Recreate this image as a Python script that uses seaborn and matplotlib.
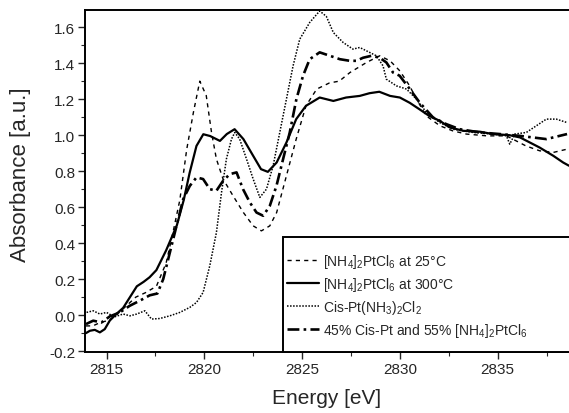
import numpy as np
import pandas as pd
import matplotlib
matplotlib.use("Agg")
import matplotlib.pyplot as plt
import seaborn as sns
from matplotlib.ticker import MultipleLocator
from matplotlib.patches import Rectangle

# ---------------- data ----------------
e_300 = [2813.95, 2814.15, 2814.4, 2814.66, 2814.91, 2815.17, 2815.5, 2815.85, 2816.2, 2816.55,
         2816.9, 2817.2, 2817.55, 2818.05, 2818.6, 2818.95, 2819.25, 2819.6, 2819.95, 2820.3,
         2820.8, 2821.15, 2821.55, 2822.0, 2822.5, 2822.9, 2823.25, 2823.7, 2824.2, 2824.7,
         2825.2, 2825.9, 2826.6, 2827.25, 2827.95, 2828.45, 2828.95, 2829.5, 2830.0, 2830.5,
         2831.0, 2831.5, 2832.05, 2832.55, 2833.25, 2834.1, 2834.75, 2835.6, 2836.15, 2836.65,
         2837.15, 2837.85, 2838.35, 2838.65]
a_300 = [-0.10, -0.087, -0.082, -0.096, -0.078, -0.03, 0.006, 0.04, 0.10, 0.16,
         0.185, 0.21, 0.25, 0.36, 0.50, 0.64, 0.79, 0.94, 1.005, 0.995,
         0.968, 1.006, 1.033, 0.978, 0.885, 0.811, 0.796, 0.848, 0.959, 1.089,
         1.163, 1.209, 1.19, 1.209, 1.218, 1.233, 1.241, 1.218, 1.209, 1.18,
         1.144, 1.107, 1.079, 1.043, 1.024, 1.019, 1.006, 1.0, 0.987, 0.959,
         0.931, 0.885, 0.848, 0.83]

e_25 = [2813.95, 2814.3, 2814.7, 2815.1, 2815.5, 2816.0, 2816.5, 2817.0, 2817.55, 2818.05,
        2818.4, 2818.75, 2819.1, 2819.45, 2819.77, 2820.1, 2820.37, 2820.62, 2820.96, 2821.47,
        2822.0, 2822.5, 2822.92, 2823.35, 2823.7, 2824.2, 2824.7, 2825.2, 2825.75, 2826.4,
        2826.9, 2827.45, 2828.3, 2828.97, 2829.5, 2830.0, 2830.5, 2830.85, 2831.35, 2832.05,
        2832.7, 2833.4, 2834.45, 2835.45, 2836.45, 2837.15, 2837.85, 2838.55]
a_25 = [-0.06, -0.06, -0.04, -0.03, 0.0, 0.05, 0.10, 0.125, 0.16, 0.29,
        0.46, 0.64, 0.92, 1.13, 1.30, 1.22, 1.015, 0.867, 0.756, 0.663,
        0.57, 0.496, 0.468, 0.496, 0.57, 0.774, 0.978, 1.163, 1.256, 1.29,
        1.30, 1.348, 1.404, 1.441, 1.413, 1.357, 1.274, 1.2, 1.107, 1.052,
        1.024, 1.006, 0.996, 0.996, 0.94, 0.913, 0.904, 0.922]

e_cis = [2813.98, 2814.32, 2814.66, 2815.0, 2815.4, 2815.85, 2816.2, 2816.55, 2816.96, 2817.3,
         2817.72, 2818.24, 2818.75, 2819.26, 2819.6, 2819.94, 2820.28, 2820.62, 2820.88, 2821.13,
         2821.39, 2821.56, 2821.81, 2822.16, 2822.5, 2822.84, 2823.18, 2823.52, 2823.86, 2824.2,
         2824.54, 2824.88, 2825.39, 2825.9, 2826.24, 2826.6, 2827.1, 2827.6, 2827.95, 2828.3,
         2828.8, 2829.14, 2829.31, 2829.82, 2830.34, 2830.85, 2831.36, 2832.04, 2832.72, 2833.74,
         2834.77, 2835.45, 2835.62, 2835.88, 2836.47, 2836.98, 2837.49, 2838.0, 2838.55]
a_cis = [0.015, 0.024, 0.006, 0.015, -0.01, 0.006, -0.004, 0.006, 0.024, -0.022,
         -0.019, -0.004, 0.015, 0.043, 0.07, 0.126, 0.274, 0.459, 0.681, 0.867,
         0.978, 1.015, 0.978, 0.867, 0.756, 0.654, 0.70, 0.83, 1.015, 1.2,
         1.385, 1.533, 1.626, 1.69, 1.66, 1.57, 1.515, 1.478, 1.487, 1.468,
         1.441, 1.385, 1.311, 1.274, 1.256, 1.2, 1.126, 1.07, 1.033, 1.015,
         1.006, 0.996, 0.95, 1.006, 1.015, 1.052, 1.089, 1.089, 1.07]

e_mix = [2813.95, 2814.32, 2814.74, 2815.17, 2815.68, 2816.19, 2816.7, 2817.21, 2817.6, 2817.9,
         2818.24, 2818.58, 2818.92, 2819.26, 2819.6, 2819.94, 2820.28, 2820.62, 2820.96, 2821.3,
         2821.65, 2821.98, 2822.33, 2822.67, 2823.01, 2823.35, 2823.69, 2824.03, 2824.37, 2824.71,
         2825.05, 2825.39, 2825.9, 2826.42, 2826.93, 2827.44, 2827.78, 2828.12, 2828.55, 2828.97,
         2829.31, 2829.65, 2829.99, 2830.51, 2831.02, 2831.7, 2832.38, 2833.06, 2834.1, 2835.11,
         2836.13, 2836.81, 2837.49, 2838.17, 2838.55]
a_mix = [-0.05, -0.031, -0.041, -0.007, 0.015, 0.052, 0.08, 0.11, 0.12, 0.2,
         0.348, 0.496, 0.644, 0.718, 0.765, 0.756, 0.70, 0.691, 0.746, 0.783,
         0.793, 0.70, 0.626, 0.57, 0.552, 0.607, 0.718, 0.867, 1.015, 1.2,
         1.33, 1.422, 1.46, 1.441, 1.422, 1.413, 1.413, 1.43, 1.441, 1.43,
         1.404, 1.348, 1.33, 1.256, 1.18, 1.098, 1.061, 1.033, 1.015, 1.006,
         0.996, 0.987, 0.978, 0.996, 1.006]

labels = [r"[NH$_4$]$_2$PtCl$_6$ at 25°C",
          r"[NH$_4$]$_2$PtCl$_6$ at 300°C",
          r"Cis-Pt(NH$_3$)$_2$Cl$_2$",
          r"45% Cis-Pt and 55% [NH$_4$]$_2$PtCl$_6$"]
x_ticks = [2815, 2820, 2825, 2830, 2835]
y_ticks = [-0.2, 0.0, 0.2, 0.4, 0.6, 0.8, 1.0, 1.2, 1.4, 1.6]

# ---------------- style ----------------
sns.set_style("ticks")
plt.rcParams["font.family"] = ["Liberation Sans", "DejaVu Sans"]
plt.rcParams["mathtext.fontset"] = "custom"
plt.rcParams["mathtext.rm"] = "Liberation Sans"
plt.rcParams["mathtext.it"] = "Liberation Sans:italic"

W, H = 569, 414
ax_l, ax_b, ax_t = 85, 353, 10.7
fig = plt.figure(figsize=(W / 100, H / 100), dpi=100)
ax = fig.add_axes([ax_l / W, 1 - ax_b / H, 1 - ax_l / W, (ax_b - ax_t) / H])
aw, ah = W - ax_l, ax_b - ax_t

series = [
    (e_25, a_25, dict(linestyle=(0, (3, 3)), linewidth=1.0)),
    (e_300, a_300, dict(linestyle="-", linewidth=1.6)),
    (e_cis, a_cis, dict(linestyle=(0, (1, 1)), linewidth=1.1)),
    (e_mix, a_mix, dict(linestyle=(0, (4.5, 1.6, 1, 1.6)), linewidth=1.9)),
]
for (ex, ay, st), lab in zip(series, labels):
    df = pd.DataFrame({"Energy": ex, "Absorbance": ay})
    sns.lineplot(data=df, x="Energy", y="Absorbance", ax=ax, color="black",
                 sort=False, label=lab, **st)

ax.set_xlim(2813.9, 2838.65)
ax.set_ylim(-0.205, 1.697)
ax.set_xticks(x_ticks)
ax.set_yticks(y_ticks)
ax.set_yticklabels([f"{v:.1f}" for v in y_ticks])
ax.xaxis.set_minor_locator(MultipleLocator(2.5))
ax.yaxis.set_minor_locator(MultipleLocator(0.1))
ax.tick_params(which="major", direction="out", length=5, width=1.0, labelsize=11, pad=2)
ax.tick_params(which="minor", direction="out", length=3, width=0.8)
ax.spines["right"].set_visible(False)
for s in ["left", "bottom", "top"]:
    ax.spines[s].set_linewidth(1.4)
    ax.spines[s].set_color("black")

ax.set_xlabel("Energy [eV]", fontsize=15, labelpad=9)
ax.set_ylabel("Absorbance [a.u.]", fontsize=16)
ax.yaxis.set_label_coords((31 - ax_l) / aw, 0.52)

# legend frame drawn as a rectangle (box runs off the right edge)
box_x0 = (283 - ax_l) / aw
box_top = (ax_b - 238) / ah
ax.add_patch(Rectangle((box_x0, 0), 1.2, box_top, transform=ax.transAxes,
                       facecolor="white", edgecolor="black", linewidth=1.4,
                       zorder=4, clip_on=False))
leg = ax.legend(loc="upper left", bbox_to_anchor=((287 - ax_l) / aw, (ax_b - 253) / ah),
                borderaxespad=0, borderpad=0, frameon=False, fontsize=10,
                handlelength=2.3, handletextpad=0.3, labelspacing=0.36)
leg.set_zorder(5)

fig.savefig("out.png", dpi=100)
